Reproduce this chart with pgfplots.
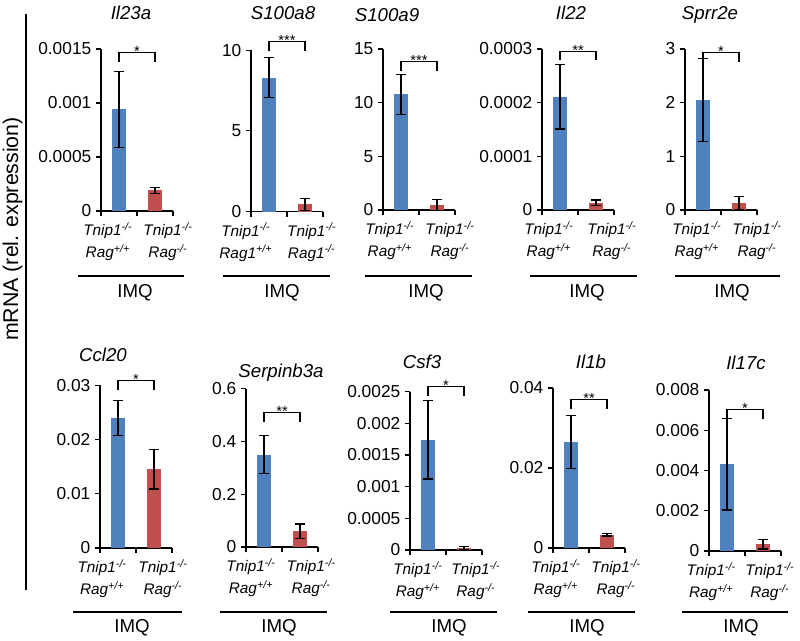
\documentclass[border=0pt]{standalone}
\usepackage{fontspec}
\setmainfont{Liberation Sans}
\usepackage{pgfplots}
\pgfplotsset{compat=1.18}
\definecolor{barblue}{RGB}{79,129,189}
\definecolor{barred}{RGB}{192,80,77}

\newcommand{\wt}{Tnip1\textsuperscript{-/-}\\Rag\textsuperscript{+/+}}
\newcommand{\ko}{Tnip1\textsuperscript{-/-}\\Rag\textsuperscript{-/-}}
\newcommand{\wtone}{Tnip1\textsuperscript{-/-}\\Rag1\textsuperscript{+/+}}
\newcommand{\koone}{Tnip1\textsuperscript{-/-}\\Rag1\textsuperscript{-/-}}

\pgfplotsset{
  panel/.style={
    scale only axis, width=54pt, clip=false,
    anchor=south west,
    xmin=0.5, xmax=2.5, ymin=0,
    axis x line*=bottom, axis y line*=left,
    axis line style={line width=0.9pt, black},
    tick align=outside, major tick length=3.75pt,
    tick style={line width=0.9pt, black},
    xtick={0.5,1.5,2.5}, xticklabels={},
    yticklabel style={font=\fontsize{13}{15}\selectfont,
      /pgf/number format/fixed, /pgf/number format/precision=4,
      /pgf/number format/assume math mode=true},
    scaled y ticks=false,
    extra x tick style={major tick length=0pt,
      xticklabel style={font=\fontsize{11.5}{16.5}\selectfont\itshape,
        align=center, anchor=north, yshift=-5pt}},
  },
  blue/.style={ybar, bar width=10.5pt, fill=barblue, draw=none,
    error bars/.cd, y dir=both, y explicit,
    error bar style={draw=black, line width=0.9pt},
    error mark options={draw=black, line width=0.9pt, mark size=3.75pt, rotate=90}},
  red/.style={ybar, bar width=10.5pt, fill=barred, draw=none,
    error bars/.cd, y dir=both, y explicit,
    error bar style={draw=black, line width=0.9pt},
    error mark options={draw=black, line width=0.9pt, mark size=3.75pt, rotate=90}},
}
% significance bracket between the two bars
\newcommand{\sig}[2]{%
  \draw[line width=0.8pt] ([yshift=-7pt]axis cs:1,#1) -- (axis cs:1,#1)
     -- (axis cs:2,#1) -- ([yshift=-7pt]axis cs:2,#1);
  \node[anchor=base, yshift=-3pt, inner sep=0pt, font=\fontsize{11}{13}\selectfont] at (axis cs:1.5,#1) {#2};}

\begin{document}
\begin{tikzpicture}

% ---- row 1 ----
\begin{axis}[panel, at={(101*0.75pt,-211*0.75pt)}, height=121.5pt,
  ymax=0.0015, ytick={0,0.0005,0.001,0.0015},
  extra x ticks={0.69,2.36}, extra x tick labels={\wt,\ko}]
\addplot[blue] coordinates {(1,0.00094) +- (0,0.00035)};
\addplot[red] coordinates {(2,0.00019) +- (0,0.00003)};
\sig{0.00147}{*}
\end{axis}

\begin{axis}[panel, at={(251*0.75pt,-211.5*0.75pt)}, height=121pt,
  ymax=10, ytick={0,5,10},
  extra x ticks={0.56,2.39}, extra x tick labels={\wtone,\koone},
  extra x tick style={xticklabel style={xshift=-5.5pt}}]
\addplot[blue] coordinates {(1,8.3) +- (0,1.25)};
\addplot[red] coordinates {(2,0.45) +- (0,0.38)};
\sig{10.54}{***}
\end{axis}

\begin{axis}[panel, at={(383*0.75pt,-210*0.75pt)}, height=120.75pt,
  ymax=15, ytick={0,5,10,15},
  extra x ticks={0.69,2.36}, extra x tick labels={\wt,\ko}]
\addplot[blue] coordinates {(1,10.78) +- (0,1.85)};
\addplot[red] coordinates {(2,0.47) +- (0,0.5)};
\sig{13.8}{***}
\end{axis}

\begin{axis}[panel, at={(542*0.75pt,-210*0.75pt)}, height=120.75pt,
  ymax=0.0003, ytick={0,0.0001,0.0002,0.0003},
  extra x ticks={0.69,2.44}, extra x tick labels={\wt,\ko}]
\addplot[blue] coordinates {(1,0.000211) +- (0,0.00006)};
\addplot[red] coordinates {(2,0.0000137) +- (0,0.000005)};
\sig{0.000296}{**}
\end{axis}

\begin{axis}[panel, at={(685*0.75pt,-210*0.75pt)}, height=120.75pt,
  ymax=3, ytick={0,1,2,3},
  extra x ticks={0.83,2.5}, extra x tick labels={\wt,\ko}]
\addplot[blue] coordinates {(1,2.05) +- (0,0.78)};
\addplot[red] coordinates {(2,0.136) +- (0,0.12)};
\sig{2.93}{*}
\end{axis}

% ---- row 2 ----
\begin{axis}[panel, at={(100*0.75pt,-548*0.75pt)}, height=122pt,
  ymax=0.03, ytick={0,0.01,0.02,0.03},
  extra x ticks={0.56,2.25}, extra x tick labels={\wt,\ko}]
\addplot[blue] coordinates {(1,0.0240) +- (0,0.0032)};
\addplot[red] coordinates {(2,0.0145) +- (0,0.0036)};
\sig{0.0309}{*}
\end{axis}

\begin{axis}[panel, at={(246*0.75pt,-547*0.75pt)}, height=118.75pt,
  ymax=0.6, ytick={0,0.2,0.4,0.6},
  extra x ticks={0.64,2.31}, extra x tick labels={\wt,\ko}]
\addplot[blue] coordinates {(1,0.35) +- (0,0.072)};
\addplot[red] coordinates {(2,0.06) +- (0,0.027)};
\sig{0.509}{**}
\end{axis}

\begin{axis}[panel, at={(410*0.75pt,-550*0.75pt)}, height=118.75pt,
  ymax=0.0025, ytick={0,0.0005,0.001,0.0015,0.002,0.0025},
  extra x ticks={0.72,2.33}, extra x tick labels={\wt,\ko}]
\addplot[blue] coordinates {(1,0.00174) +- (0,0.00062)};
\addplot[red] coordinates {(2,0.00003) +- (0,0.00002)};
\sig{0.00258}{*}
\end{axis}

\begin{axis}[panel, at={(553*0.75pt,-548*0.75pt)}, height=120pt,
  ymax=0.04, ytick={0,0.02,0.04},
  extra x ticks={0.58,2.25}, extra x tick labels={\wt,\ko}]
\addplot[blue] coordinates {(1,0.0265) +- (0,0.0067)};
\addplot[red] coordinates {(2,0.0033) +- (0,0.0003)};
\sig{0.0372}{**}
\end{axis}

\begin{axis}[panel, at={(709*0.75pt,-551*0.75pt)}, height=120.75pt,
  ymax=0.008, ytick={0,0.002,0.004,0.006,0.008},
  extra x ticks={0.56,2.19}, extra x tick labels={\wt,\ko}]
\addplot[blue] coordinates {(1,0.00432) +- (0,0.00228)};
\addplot[red] coordinates {(2,0.00033) +- (0,0.00023)};
\sig{0.00704}{*}
\end{axis}

% ---- titles, IMQ group lines, shared y label ----
\begin{scope}[x=0.75pt, y=-0.75pt]
\path[use as bounding box] (0,0) rectangle (800,640);
\draw[line width=1.1pt] (26,14) -- (26,590);
\node[rotate=90, font=\fontsize{16}{18}\selectfont] at (12.5,229) {mRNA (rel. expression)};

\tikzset{ttl/.style={font=\fontsize{14}{16}\selectfont\itshape},
  imq/.style={font=\fontsize{14}{16}\selectfont}}
\node[ttl] at (131,13) {Il23a};
\node[ttl] at (283,13) {S100a8};
\node[ttl] at (387,15) {S100a9};
\node[ttl] at (571,13) {Il22};
\node[ttl] at (710,15) {Sprr2e};
\node[ttl] at (103,355) {Ccl20};
\node[ttl] at (281,373) {Serpinb3a};
\node[ttl] at (422,362) {Csf3};
\node[ttl] at (591,362) {Il1b};
\node[ttl] at (746,363) {Il17c};

\foreach \a/\b/\c in {78/184/135, 223/330/282, 365/472/426, 530/637/587, 675/780/732} {
  \draw[line width=0.9pt] (\a,276) -- (\b,276);
  \node[imq] at (\c,293) {IMQ};
}
\foreach \a/\b/\c in {73/182/132, 220/327/279, 390/497/449, 528/635/587, 682/788/741} {
  \draw[line width=0.9pt] (\a,612) -- (\b,612);
  \node[imq] at (\c,628) {IMQ};
}
\end{scope}
\end{tikzpicture}
\end{document}
